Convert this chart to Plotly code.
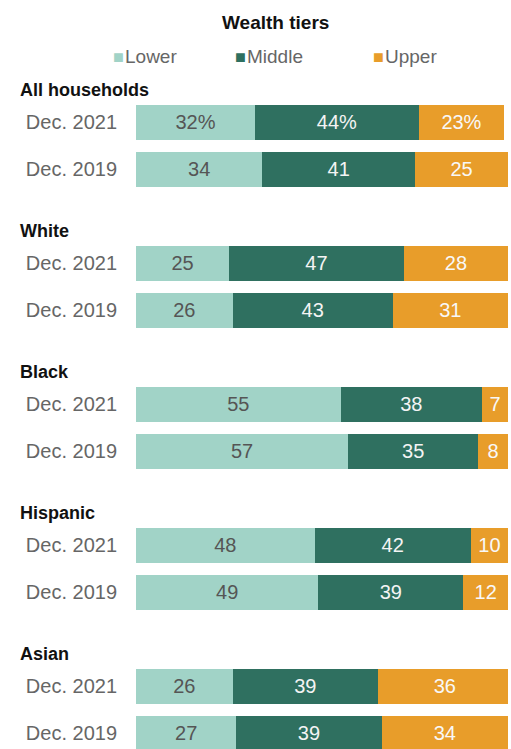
import plotly.graph_objects as go

groups = ["All households", "White", "Black", "Hispanic", "Asian"]
periods = ["Dec. 2021", "Dec. 2019"]
tiers = ["Lower", "Middle", "Upper"]

lower = [32, 34, 25, 26, 55, 57, 48, 49, 26, 27]
middle = [44, 41, 47, 43, 38, 35, 42, 39, 39, 39]
upper = [23, 25, 28, 31, 7, 8, 10, 12, 36, 34]

colors = {"Lower": "#a1d3c7", "Middle": "#2f7060", "Upper": "#e89d2a"}
text_colors = {"Lower": "#555555", "Middle": "#f4f4f4", "Upper": "#f8f8f8"}
FONT = "Liberation Sans, Arial, sans-serif"

# row positions: each group takes 3 slots (header, 2021, 2019)
ypos = []
ylabels = []
for g_i, g in enumerate(groups):
    for p_i, p in enumerate(periods):
        ypos.append(3 * g_i + p_i)
        ylabels.append(p)

fig = go.Figure()
for tier, vals in zip(tiers, [lower, middle, upper]):
    labels = [f"{v}%" if i == 0 else str(v) for i, v in enumerate(vals)]
    fig.add_trace(go.Bar(
        x=vals, y=ypos, orientation="h", name=tier,
        marker=dict(color=colors[tier], line=dict(width=0)),
        width=0.75,
        text=labels, textposition="inside", insidetextanchor="middle",
        textangle=0,
        insidetextfont=dict(family=FONT, size=20, color=text_colors[tier]),
        hoverinfo="skip", showlegend=False,
    ))

annotations = []
# group headers
for g_i, g in enumerate(groups):
    annotations.append(dict(
        text=f"<b>{g}</b>", xref="paper", x=-0.317, xanchor="left",
        yref="y", y=3 * g_i - 0.69, yanchor="middle", showarrow=False,
        font=dict(family=FONT, size=18, color="#111111"),
    ))
# title
annotations.append(dict(
    text="<b>Wealth tiers</b>", xref="paper", x=0.374, xanchor="center",
    yref="paper", y=0.996, yanchor="middle", showarrow=False,
    font=dict(family=FONT, size=19, color="#111111"),
))
# legend
leg_x = [111, 233, 371]
for tier, px in zip(tiers, leg_x):
    annotations.append(dict(
        text=f"<span style='color:{colors[tier]};font-size:18px'>■</span><span style='font-size:4px'> </span>{tier}",
        xref="paper", x=(px - 136) / 372, xanchor="left",
        yref="paper", y=(749 - 57) / 729, yanchor="middle", showarrow=False,
        font=dict(family=FONT, size=19, color="#666666"),
    ))

fig.update_layout(
    width=511, height=749,
    margin=dict(l=136, r=3, t=20, b=0),
    barmode="stack", bargap=0,
    plot_bgcolor="white", paper_bgcolor="white",
    xaxis=dict(range=[0, 100], visible=False, fixedrange=True),
    yaxis=dict(range=[13.33, -2.18], tickvals=ypos, ticktext=ylabels,
               showgrid=False, zeroline=False, showline=False,
               ticks="", ticklabelstandoff=18, fixedrange=True,
               tickfont=dict(family=FONT, size=20, color="#666666")),
    annotations=annotations,
    uniformtext=dict(mode=False),
)

fig.write_html(
    "out.html",
    config={"displayModeBar": False, "staticPlot": True},
    post_script="document.body.style.margin='0';document.body.style.overflow='hidden';",
)
